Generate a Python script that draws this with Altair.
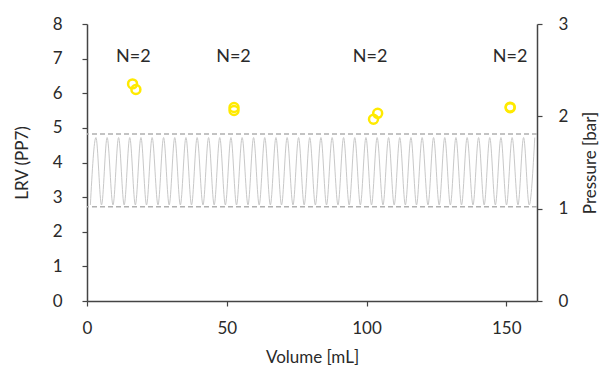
import altair as alt
import pandas as pd

# Sample points (LRV, left axis)
pt_volume = [16.3, 17.5, 52.6, 52.6, 102.5, 104.0, 151.4, 151.4]
pt_lrv = [6.27, 6.11, 5.59, 5.50, 5.25, 5.42, 5.60, 5.58]

# N labels
lab_volume = [16.6, 52.4, 101.3, 151.4]
lab_y = [7.05, 7.05, 7.05, 7.05]
lab_text = ["N=2", "N=2", "N=2", "N=2"]

# Pressure trace (right axis), read as alternating troughs/peaks
tr_volume = [
    1.2, 3.2, 5.2, 7.2, 9.3, 11.3, 13.3, 15.3, 17.3, 19.3,
    21.3, 23.3, 25.4, 27.4, 29.4, 31.4, 33.4, 35.4, 37.4, 39.4,
    41.5, 43.5, 45.5, 47.5, 49.5, 51.5, 53.5, 55.5, 57.6, 59.6,
    61.6, 63.6, 65.6, 67.6, 69.6, 71.6, 73.7, 75.7, 77.7, 79.7,
    81.7, 83.7, 85.7, 87.7, 89.8, 91.8, 93.8, 95.8, 97.8, 99.8,
    101.8, 103.8, 105.9, 107.9, 109.9, 111.9, 113.9, 115.9, 117.9, 119.9,
    122.0, 124.0, 126.0, 128.0, 130.0, 132.0, 134.0, 136.0, 138.1, 140.1,
    142.1, 144.1, 146.1, 148.1, 150.1, 152.1, 154.2, 156.2, 158.2, 160.2,
]
tr_pressure = [
    1.04, 1.77, 1.04, 1.77, 1.04, 1.77, 1.04, 1.77, 1.04, 1.77,
    1.04, 1.77, 1.04, 1.77, 1.04, 1.77, 1.04, 1.77, 1.04, 1.77,
    1.04, 1.77, 1.04, 1.77, 1.04, 1.77, 1.04, 1.77, 1.04, 1.77,
    1.04, 1.77, 1.04, 1.77, 1.04, 1.77, 1.04, 1.77, 1.04, 1.77,
    1.04, 1.77, 1.04, 1.77, 1.04, 1.77, 1.04, 1.77, 1.04, 1.77,
    1.04, 1.77, 1.04, 1.77, 1.04, 1.77, 1.04, 1.77, 1.04, 1.77,
    1.04, 1.77, 1.04, 1.77, 1.04, 1.77, 1.04, 1.77, 1.04, 1.77,
    1.04, 1.77, 1.04, 1.77, 1.04, 1.77, 1.04, 1.77, 1.04, 1.77,
]

# Dashed pressure limits
limit_pressure = [1.02, 1.81]

x_ticks = [0, 50, 100, 150]
lrv_ticks = [0, 1, 2, 3, 4, 5, 6, 7, 8]
p_ticks = [0, 1, 2, 3]

pts = pd.DataFrame({"volume": pt_volume, "lrv": pt_lrv})
labs = pd.DataFrame({"volume": lab_volume, "lrv": lab_y, "text": lab_text})
trace = pd.DataFrame({"volume": tr_volume, "pressure": tr_pressure})
limits = pd.DataFrame({"pressure": limit_pressure})

FONT = "Lato"
xscale = alt.Scale(domain=[0, 161], nice=False, zero=False)
xaxis = alt.Axis(values=x_ticks, title="Volume [mL]", tickSize=5, labelPadding=14,
                 labelFlush=False, titlePadding=13,
                 domainColor="#444", tickColor="#444")
lrv_axis = alt.Axis(values=lrv_ticks, title="LRV (PP7)", orient="left", tickSize=5,
                    labelFlush=False, labelPadding=20, titlePadding=21,
                    domainColor="#444", tickColor="#444")
p_axis = alt.Axis(values=p_ticks, title="Pressure [bar]", orient="right", tickSize=5,
                  labelFlush=False, labelPadding=16, titlePadding=15, titleAngle=-90,
                  titleBaseline="top", domainColor="#444", tickColor="#444")

lrv_scale = alt.Scale(domain=[0, 8], nice=False)
p_scale = alt.Scale(domain=[0, 3], nice=False)

points = alt.Chart(pts).mark_point(
    shape="circle", filled=False, size=80, strokeWidth=2.5, color="#FFEA00", opacity=1
).encode(
    x=alt.X("volume:Q", scale=xscale, axis=xaxis),
    y=alt.Y("lrv:Q", scale=lrv_scale, axis=lrv_axis),
)

texts = alt.Chart(labs).mark_text(
    font=FONT, fontSize=18, color="#2a2a2a", baseline="middle", align="center"
).encode(
    x=alt.X("volume:Q", scale=xscale, axis=xaxis),
    y=alt.Y("lrv:Q", scale=lrv_scale, axis=lrv_axis),
    text="text:N",
)

line = alt.Chart(trace).mark_line(
    color="#c8c8c8", strokeWidth=1, interpolate="monotone"
).encode(
    x=alt.X("volume:Q", scale=xscale, axis=xaxis),
    y=alt.Y("pressure:Q", scale=p_scale, axis=p_axis),
)

rules = alt.Chart(limits).mark_rule(
    color="#b0b0b0", strokeWidth=1.5, strokeDash=[5, 3]
).encode(
    y=alt.Y("pressure:Q", scale=p_scale, axis=p_axis),
)

left = alt.layer(points, texts)
right = alt.layer(rules, line)

chart = alt.layer(right, left).resolve_scale(y="independent").properties(
    width=450, height=277,
    autosize=alt.AutoSizeParams(type="none"),
    padding={"left": 79, "top": 16, "right": 66, "bottom": 65},
).configure_view(stroke=None).configure_axis(
    grid=False, labelFont=FONT, titleFont=FONT, labelFontSize=17, titleFontSize=17,
    titleFontWeight="normal", labelColor="#2a2a2a", titleColor="#2a2a2a",
    domainWidth=1.5, tickWidth=1.2,
)

chart.save("out.html", embed_options={"renderer": "svg", "actions": False})
